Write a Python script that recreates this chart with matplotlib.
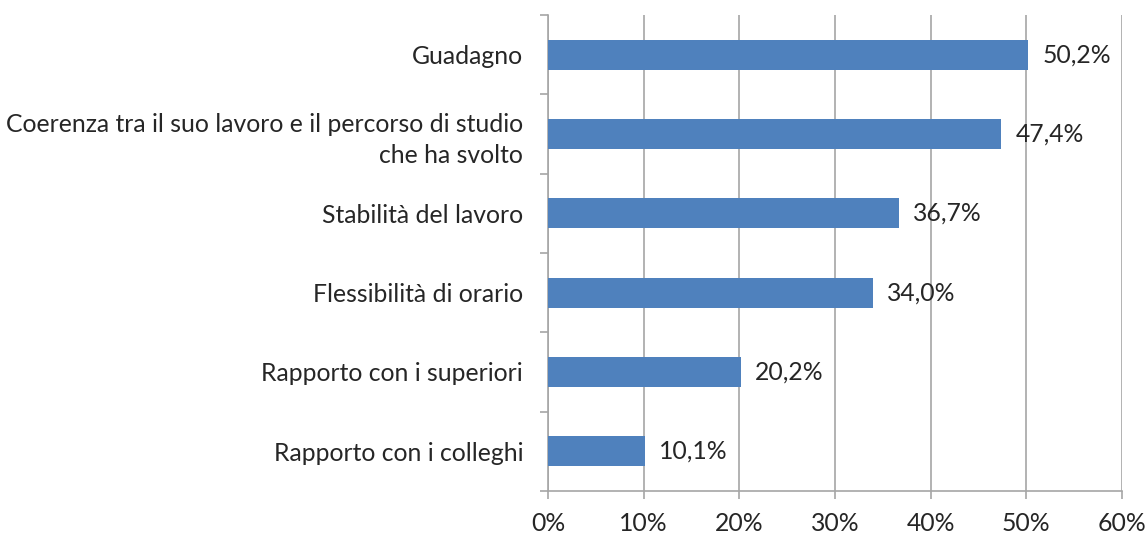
import matplotlib
matplotlib.use("Agg")
import matplotlib.pyplot as plt
from matplotlib.ticker import FuncFormatter

# Data (top to bottom as in the chart)
categories = [
    "Guadagno",
    "Coerenza tra il suo lavoro e il percorso di studio\nche ha svolto",
    "Stabilità del lavoro",
    "Flessibilità di orario",
    "Rapporto con i superiori",
    "Rapporto con i colleghi",
]
values = [50.2, 47.4, 36.7, 34.0, 20.2, 10.1]
value_labels = ["50,2%", "47,4%", "36,7%", "34,0%", "20,2%", "10,1%"]
x_ticks = [0, 10, 20, 30, 40, 50, 60]

plt.rcParams['font.family'] = ['Lato', 'DejaVu Sans']

BAR = '#4F81BD'
GRID = '#A6A6A6'
TEXT = '#262626'
FS = 17.8

fig = plt.figure(figsize=(11.47, 5.38), dpi=100)
ax = fig.add_axes([0.4778, 0.0874, 0.5004, 0.8847])

n = len(categories)
ypos = list(range(n))[::-1]
ax.barh(ypos, values, height=0.38, color=BAR, zorder=3)

for y, v, lab in zip(ypos, values, value_labels):
    ax.annotate(lab, (v, y), xytext=(10, 0), textcoords='offset points',
                va='center', ha='left', fontsize=FS, color=TEXT)

ax.set_xlim(0, 60)
ax.set_ylim(-0.5, n - 0.5)
ax.set_xticks(x_ticks)
ax.xaxis.set_major_formatter(FuncFormatter(lambda x, _: f"{x:.0f}%"))
ax.set_yticks(ypos)
ax.set_yticklabels(categories, fontsize=FS, color=TEXT, ha='right',
                   multialignment='right', linespacing=1.4)
ax.tick_params(axis='x', labelsize=FS, colors=GRID, labelcolor=TEXT, length=6, width=1.2, pad=9)
ax.tick_params(axis='y', length=0, pad=18)

# category separator ticks on the y axis
ax.set_yticks([i - 0.5 for i in range(n + 1)], minor=True)
ax.tick_params(axis='y', which='minor', length=6, width=1.2, colors=GRID)

ax.grid(axis='x', color=GRID, linewidth=1.2, zorder=0)
for s in ['top', 'right']:
    ax.spines[s].set_visible(False)
for s in ['left', 'bottom']:
    ax.spines[s].set_color(GRID)
    ax.spines[s].set_linewidth(1.2)

fig.savefig('out.png', dpi=100)
